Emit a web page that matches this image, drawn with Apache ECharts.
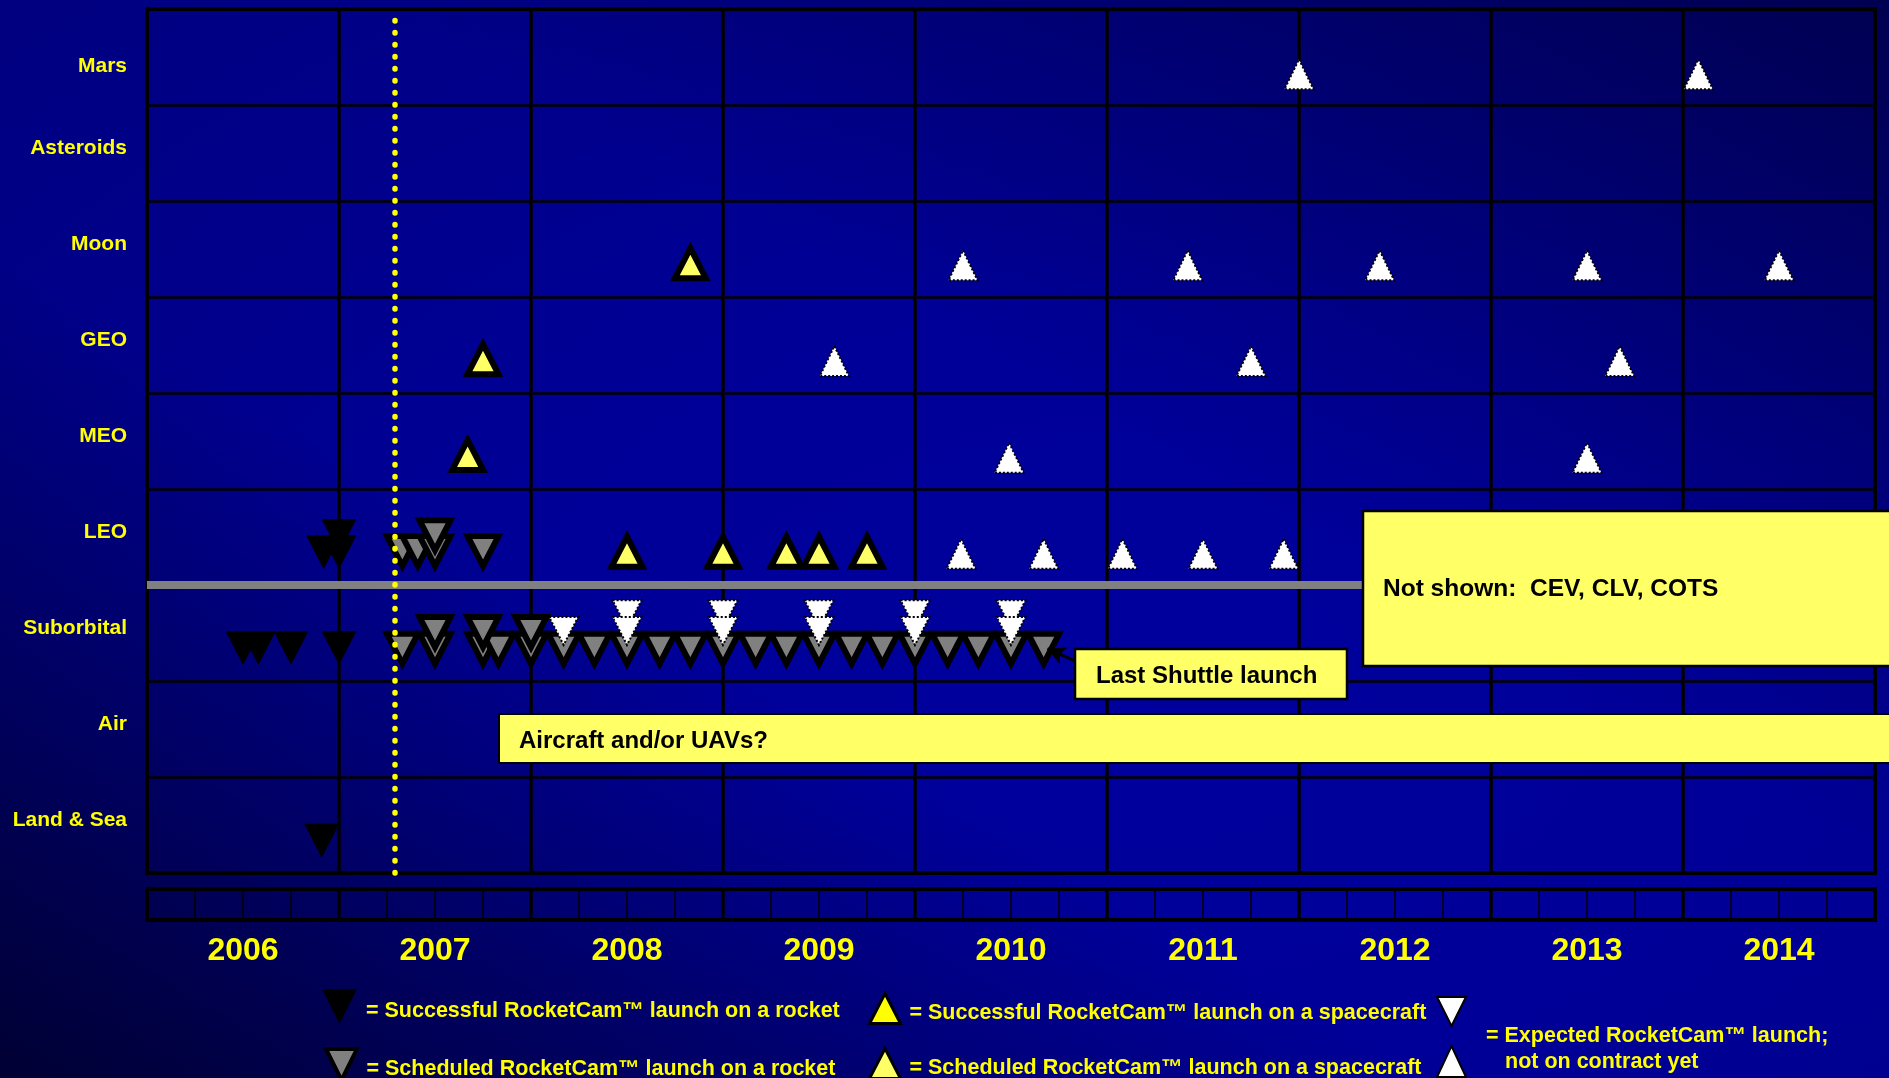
<!DOCTYPE html>
<html>
<head>
<meta charset="utf-8">
<script src="https://cdn.jsdelivr.net/npm/echarts@6/dist/echarts.min.js"></script>
<style>
html,body{margin:0;padding:0;width:1889px;height:1078px;overflow:hidden;}
body{
  background:
    linear-gradient(to top right, rgba(0,0,20,0.72) 0%, rgba(0,0,20,0) 38%),
    linear-gradient(to bottom left, rgba(0,0,30,0.5) 0%, rgba(0,0,30,0) 40%),
    radial-gradient(ellipse at 60% 65%, #00009E 0%, #000098 40%, #000080 100%);
}
#chart{width:1889px;height:1078px;}
</style>
</head>
<body>
<div id="chart"></div>
<script>
// ---------- data ----------
const rows = ['Land & Sea', 'Air', 'Suborbital', 'LEO', 'MEO', 'GEO', 'Moon', 'Asteroids', 'Mars'];
const years = ['2006', '2007', '2008', '2009', '2010', '2011', '2012', '2013', '2014'];

// [year, row position (0 = bottom of Land & Sea, 9 = top of Mars)]
const successfulRocket = [
  [2006.92, 3.34], [2007.00, 3.34], [2007.00, 3.51],
  [2006.50, 2.345], [2006.58, 2.345], [2006.75, 2.345], [2007.00, 2.345],
  [2006.91, 0.335]
];
const scheduledRocket = [
  [2007.33, 3.354], [2007.41, 3.354], [2007.50, 3.354], [2007.50, 3.518], [2007.75, 3.354],
  [2007.33, 2.336], [2007.50, 2.336], [2007.75, 2.336], [2007.83, 2.336], [2008.00, 2.336],
  [2008.17, 2.336], [2008.33, 2.336], [2008.50, 2.336], [2008.67, 2.336], [2008.83, 2.336],
  [2009.00, 2.336], [2009.17, 2.336], [2009.33, 2.336], [2009.50, 2.336], [2009.67, 2.336],
  [2009.83, 2.336], [2010.00, 2.336], [2010.17, 2.336], [2010.33, 2.336], [2010.50, 2.336],
  [2007.50, 2.51], [2007.75, 2.51], [2008.00, 2.51],
  [2010.67, 2.336]
];
const successfulSpacecraft = [];
const scheduledSpacecraft = [
  [2008.50, 3.347], [2009.00, 3.347], [2009.33, 3.347], [2009.50, 3.347], [2009.75, 3.347],
  [2007.67, 4.354],
  [2007.75, 5.351],
  [2008.83, 6.351]
];
const expectedRocket = [
  [2008.17, 2.521],
  [2008.50, 2.695], [2008.50, 2.521],
  [2009.00, 2.695], [2009.00, 2.521],
  [2009.50, 2.695], [2009.50, 2.521],
  [2010.00, 2.695], [2010.00, 2.521],
  [2010.50, 2.695], [2010.50, 2.521]
];
const expectedSpacecraft = [
  [2012.00, 8.32], [2014.08, 8.32],
  [2010.25, 6.33], [2011.42, 6.33], [2012.42, 6.33], [2013.50, 6.33], [2014.50, 6.33],
  [2009.58, 5.333], [2011.75, 5.333], [2013.67, 5.333],
  [2010.49, 4.326], [2013.50, 4.326],
  [2010.24, 3.325], [2010.67, 3.325], [2011.08, 3.325], [2011.50, 3.325], [2011.92, 3.325]
];
const todayLine = 2007.29;       // dotted "now" line
const orbitBoundary = 3;         // grey line between LEO and Suborbital
const lastShuttle = scheduledRocket[scheduledRocket.length - 1];

const names = [
  'Successful RocketCam™ launch on a rocket',
  'Scheduled RocketCam™ launch on a rocket',
  'Successful RocketCam™ launch on a spacecraft',
  'Scheduled RocketCam™ launch on a spacecraft',
  'Expected RocketCam™ launch on a rocket',
  'Expected RocketCam™ launch on a spacecraft'
];

// ---------- chart ----------
const FONT = '"Liberation Sans", Arial, sans-serif';
const YEL = '#FFFF00';
const downTri = 'path://M0,0L10,0L5,10Z';
const chart = echarts.init(document.getElementById('chart'), null, {renderer: 'canvas'});

const legendCommon = {
  selectedMode: false,
  padding: 0,
  orient: 'horizontal',
  formatter: n => '{t|= ' + n + '}',
  textStyle: {
    color: YEL, fontSize: 21.5, fontWeight: 'bold', fontFamily: FONT,
    rich: {t: {color: YEL, fontSize: 21.5, fontWeight: 'bold', fontFamily: FONT, padding: [9, 0, 0, 4]}}
  }
};

const option = {
  animation: false,
  backgroundColor: 'transparent',
  textStyle: {fontFamily: FONT},
  title: [
    {text: '= Expected RocketCam™ launch;', left: 1486, top: 1025, padding: 0,
     textStyle: {color: YEL, fontSize: 21.5, fontWeight: 'bold', fontFamily: FONT}},
    {text: 'not on contract yet', left: 1505, top: 1051, padding: 0,
     textStyle: {color: YEL, fontSize: 21.5, fontWeight: 'bold', fontFamily: FONT}}
  ],
  legend: [
    Object.assign({}, legendCommon, {data: [names[0]], left: 322, top: 989, itemWidth: 35, itemHeight: 36}),
    Object.assign({}, legendCommon, {data: [names[1]], left: 324, top: 1047, itemWidth: 32, itemHeight: 31,
      itemStyle: {borderWidth: 4}}),
    Object.assign({}, legendCommon, {data: [names[2]], left: 868, top: 992, itemWidth: 31, itemHeight: 30,
      itemStyle: {borderWidth: 3}}),
    Object.assign({}, legendCommon, {data: [names[3]], left: 868, top: 1047, itemWidth: 31, itemHeight: 30,
      itemStyle: {borderWidth: 3}}),
    Object.assign({}, legendCommon, {data: [names[4]], left: 1436, top: 996, itemWidth: 29, itemHeight: 30,
      formatter: () => '', itemStyle: {borderWidth: 2}}),
    Object.assign({}, legendCommon, {data: [names[5]], left: 1436, top: 1045, itemWidth: 29, itemHeight: 31,
      formatter: () => '', itemStyle: {borderWidth: 2}})
  ],
  grid: [
    {left: 147, top: 9, width: 1728, height: 864, show: true, borderColor: '#000', borderWidth: 4,
     backgroundColor: 'transparent'},
    {left: 147, top: 889, width: 1728, height: 31, show: true, borderColor: '#000', borderWidth: 4,
     backgroundColor: 'transparent'}
  ],
  xAxis: [
    {type: 'value', gridIndex: 0, min: 2006, max: 2015, interval: 1, position: 'bottom',
     axisLine: {show: false}, axisTick: {show: false}, axisLabel: {show: false},
     splitLine: {show: true, lineStyle: {color: '#000', width: 3.5}}},
    {type: 'value', gridIndex: 1, min: 2006, max: 2015, interval: 0.25, position: 'bottom',
     axisLine: {show: false}, axisTick: {show: false}, axisLabel: {show: false},
     splitLine: {show: true, lineStyle: {color: '#000', width: 1.5}}},
    {type: 'value', gridIndex: 1, min: 2006, max: 2015, interval: 1, position: 'bottom',
     axisLine: {show: false}, axisTick: {show: false}, axisLabel: {show: false},
     splitLine: {show: true, lineStyle: {color: '#000', width: 3.5}}},
    {type: 'category', gridIndex: 1, data: years, position: 'bottom',
     axisLine: {show: false}, axisTick: {show: false}, splitLine: {show: false},
     axisLabel: {color: YEL, fontSize: 32, fontWeight: 'bold', fontFamily: FONT, margin: 15}}
  ],
  yAxis: [
    {type: 'value', gridIndex: 0, min: 0, max: 9, interval: 1, position: 'left',
     axisLine: {show: false}, axisTick: {show: false}, axisLabel: {show: false},
     splitLine: {show: true, lineStyle: {color: '#000', width: 2.5}}},
    {type: 'category', gridIndex: 0, data: rows, position: 'left', offset: 0,
     axisLine: {show: false}, axisTick: {show: false}, splitLine: {show: false},
     axisLabel: {
       margin: 20,
       formatter: v => v === 'Mars' ? '{dn|' + v + '}' : '{up|' + v + '}',
       rich: {
         up: {color: YEL, fontSize: 21, fontWeight: 'bold', fontFamily: FONT, padding: [0, 0, 9, 0]},
         dn: {color: YEL, fontSize: 21, fontWeight: 'bold', fontFamily: FONT, padding: [19, 0, 0, 0]}
       }
     }},
    {type: 'value', gridIndex: 1, min: 0, max: 1, show: false}
  ],
  graphic: [
    {type: 'rect', z: 100, shape: {x: 499, y: 714, width: 1420, height: 49},
     style: {fill: '#FFFF66', stroke: '#000', lineWidth: 2}},
    {type: 'text', z: 101, x: 519, y: 741,
     style: {text: 'Aircraft and/or UAVs?', fill: '#000', font: 'bold 24px ' + FONT, verticalAlign: 'middle'}},
    {type: 'rect', z: 100, shape: {x: 1363, y: 511, width: 560, height: 155},
     style: {fill: '#FFFF66', stroke: '#000', lineWidth: 2.5}},
    {type: 'text', z: 101, x: 1383, y: 589,
     style: {text: 'Not shown:  CEV, CLV, COTS', fill: '#000', font: 'bold 24.5px ' + FONT, verticalAlign: 'middle'}},
    {type: 'rect', z: 100, shape: {x: 1075, y: 649, width: 272, height: 50},
     style: {fill: '#FFFF66', stroke: '#000', lineWidth: 2.5}},
    {type: 'text', z: 101, x: 1096, y: 676,
     style: {text: 'Last Shuttle launch', fill: '#000', font: 'bold 24px ' + FONT, verticalAlign: 'middle'}}
  ],
  series: [
    {type: 'scatter', z: 1, data: [], silent: true,
     markLine: {silent: true, symbol: 'none', label: {show: false}, animation: false,
       data: [
         {yAxis: orbitBoundary, lineStyle: {color: '#808080', width: 8, type: 'solid'}},
         {xAxis: todayLine, lineStyle: {color: YEL, width: 5.5, type: [0.5, 11.5], cap: 'round'}}
       ]}},
    {name: names[0], type: 'scatter', z: 3, data: successfulRocket, symbol: downTri, symbolSize: [35, 34],
     itemStyle: {color: '#000', opacity: 1}},
    {name: names[1], type: 'scatter', z: 3, data: scheduledRocket, symbol: downTri, symbolSize: [31, 30],
     itemStyle: {color: '#808080', borderColor: '#000', borderWidth: 6, borderJoin: 'miter', borderMiterLimit: 10, opacity: 1}},
    {name: names[2], type: 'scatter', z: 3, data: successfulSpacecraft, symbol: 'triangle', symbolSize: [31, 30],
     itemStyle: {color: '#FFFF00', borderColor: '#000', borderWidth: 6, borderJoin: 'miter', borderMiterLimit: 10, opacity: 1}},
    {name: names[3], type: 'scatter', z: 3, data: scheduledSpacecraft, symbol: 'triangle', symbolSize: [31, 30],
     itemStyle: {color: '#FFFF66', borderColor: '#000', borderWidth: 6, borderJoin: 'miter', borderMiterLimit: 10, opacity: 1}},
    {name: names[4], type: 'scatter', z: 4, data: expectedRocket, symbol: downTri, symbolSize: [29, 28],
     itemStyle: {color: '#FFFFFF', borderColor: '#000', borderWidth: 2, borderType: 'dotted', opacity: 1}},
    {name: names[5], type: 'scatter', z: 4, data: expectedSpacecraft, symbol: 'triangle', symbolSize: [29, 30],
     itemStyle: {color: '#FFFFFF', borderColor: '#000', borderWidth: 2, borderType: 'dotted', opacity: 1}},
    {type: 'scatter', z: 5, data: [], silent: true,
     markLine: {silent: true, symbol: ['none', 'arrow'], symbolSize: [14, 18], label: {show: false}, animation: false,
       lineStyle: {color: '#000', width: 3, type: 'solid'},
       data: [[
         {coord: [lastShuttle[0] + 0.16, lastShuttle[1] - 0.125]},
         {coord: [lastShuttle[0] + 0.02, lastShuttle[1]]}
       ]]}}
  ]
};
chart.setOption(option);
</script>
</body>
</html>
